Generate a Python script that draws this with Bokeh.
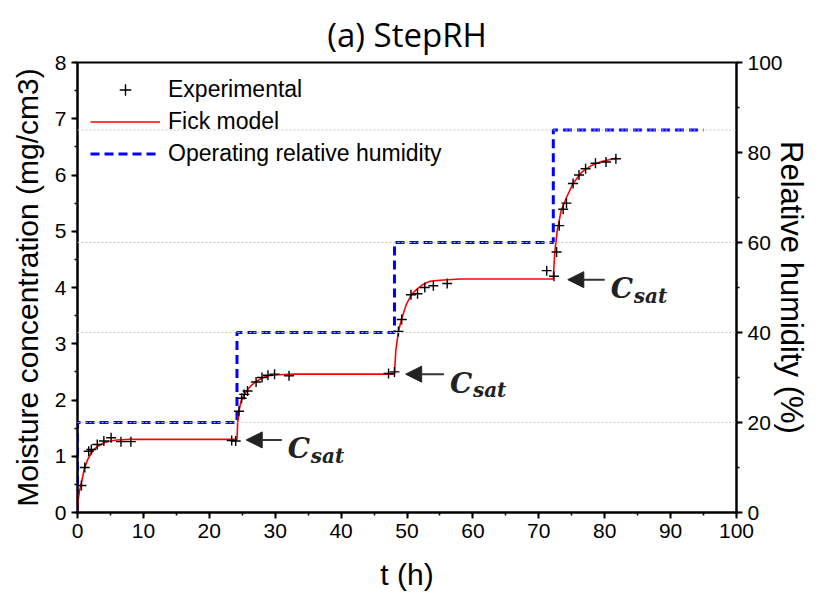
from bokeh.plotting import figure
from bokeh.models import (Range1d, LinearAxis, SingleIntervalTicker, Legend, LegendItem,
                          Span, Arrow, NormalHead, Label)
from bokeh.embed import file_html
from bokeh.resources import INLINE

# ---------------- data ----------------
# Experimental points
exp_t = [0.6, 1.1, 1.7, 2.1, 3.0, 4.0, 5.1, 6.6, 8.1, 23.4, 24.0,
         24.5, 24.9, 25.3, 25.8, 27.1, 28.0, 28.9, 29.9, 32.1, 47.2, 48.1,
         48.7, 49.2, 50.6, 51.6, 52.7, 54.0, 56.1, 71.2, 72.3,
         72.7, 73.1, 73.7, 74.2, 75.2, 76.1, 77.1, 78.6, 80.2, 81.7]
exp_c = [0.48, 0.80, 1.09, 1.12, 1.21, 1.27, 1.33, 1.26, 1.26, 1.28, 1.27,
         1.80, 2.03, 2.10, 2.16, 2.32, 2.40, 2.44, 2.46, 2.43, 2.47, 2.50,
         3.22, 3.43, 3.87, 3.89, 4.00, 4.03, 4.07, 4.30, 4.20,
         4.63, 5.10, 5.39, 5.50, 5.85, 6.00, 6.11, 6.21, 6.23, 6.29]

# Fick model curve
fick_t = [0, 0.1, 0.3, 0.6, 1.0, 1.5, 2.0, 2.5, 3.0, 4.0, 5.0, 6.0, 8.0, 12.0, 24.2,
          24.3, 24.5, 24.8, 25.2, 25.7, 26.3, 27.0, 28.0, 29.0, 30.5, 33.0, 40.0, 48.1,
          48.3, 48.7, 49.2, 49.9, 50.7, 51.5, 52.5, 53.5, 55.0, 58.0, 65.0, 72.2,
          72.4, 72.8, 73.4, 74.2, 75.2, 76.5, 78.0, 79.5, 80.7, 81.8]
fick_c = [0, 0.22, 0.38, 0.53, 0.76, 0.93, 1.04, 1.12, 1.17, 1.24, 1.27, 1.29, 1.30, 1.30, 1.30,
          1.58, 1.80, 1.97, 2.07, 2.17, 2.25, 2.32, 2.39, 2.43, 2.45, 2.46, 2.46, 2.46,
          2.88, 3.22, 3.45, 3.70, 3.88, 3.97, 4.06, 4.11, 4.13, 4.15, 4.15, 4.15,
          4.60, 5.01, 5.37, 5.60, 5.85, 6.05, 6.17, 6.24, 6.27, 6.30]

# Operating relative humidity steps
rh_step_t = [0, 24.2, 48.1, 72.2]
rh_levels = [20, 40, 60, 85]
rh_end_t = 95

# C_sat annotations (arrow tip / tail in t, level in concentration)
csat_tip_t = [25.6, 49.8, 74.4]
csat_tail_t = [31.0, 55.6, 80.0]
csat_c = [1.29, 2.46, 4.14]

# ---------------- figure ----------------
p = figure(width=835, height=595, x_range=Range1d(0, 100), y_range=Range1d(0, 8),
           output_backend="svg", toolbar_location=None,
           min_border_left=77, min_border_right=99, min_border_top=62, min_border_bottom=83)
p.extra_y_ranges = {"rh": Range1d(0, 100)}
p.xgrid.visible = False
p.ygrid.visible = False
p.outline_line_color = "black"
p.outline_line_width = 2
p.outline_line_alpha = 1
p.background_fill_color = "white"
p.border_fill_color = "white"

p.title.text = "(a) StepRH"
p.title.text_font = "Open Sans"
p.title.text_font_size = "33px"
p.title.text_font_style = "normal"
p.title.text_color = "black"
p.title.align = "center"
p.title.vertical_align = "top"
p.title.standoff = 8

right_axis = LinearAxis(y_range_name="rh", axis_label="Relative humidity (%)",
                        ticker=SingleIntervalTicker(interval=20, num_minor_ticks=2))
p.add_layout(right_axis, "right")

p.xaxis.ticker = SingleIntervalTicker(interval=10, num_minor_ticks=2)
p.yaxis[0].ticker = SingleIntervalTicker(interval=1, num_minor_ticks=2)
p.xaxis.axis_label = "t (h)"
p.yaxis[0].axis_label = "Moisture concentration (mg/cm3)"

for ax in [p.xaxis[0], p.yaxis[0], right_axis]:
    ax.axis_line_width = 2
    ax.axis_line_color = "black"
    ax.major_tick_line_width = 2
    ax.major_tick_line_color = "black"
    ax.minor_tick_line_width = 1.5
    ax.minor_tick_line_color = "black"
    ax.major_tick_in = 0
    ax.major_tick_out = 6
    ax.minor_tick_in = 0
    ax.minor_tick_out = 3
    ax.major_label_text_font = "Liberation Sans"
    ax.major_label_text_font_size = "21px"
    ax.major_label_text_color = "black"
    ax.major_label_standoff = 5
    ax.axis_label_text_font = "Liberation Sans"
    ax.axis_label_text_font_size = "30px"
    ax.axis_label_text_font_style = "normal"
    ax.axis_label_text_color = "black"
p.xaxis[0].axis_label_standoff = 17
p.yaxis[0].axis_label_standoff = 8
right_axis.axis_label_text_font_size = "31px"
right_axis.axis_label_standoff = -12

# reference lines at the operating humidity levels
for lv in rh_levels:
    p.add_layout(Span(location=lv, dimension="width", y_range_name="rh",
                      line_color="#c8c8c8", line_dash="2 2", line_width=1))

# RH step path
rh_x, rh_y = [], []
for i, (t0, lv) in enumerate(zip(rh_step_t, rh_levels)):
    prev = 0 if i == 0 else rh_levels[i - 1]
    rh_x += [t0, t0]
    rh_y += [prev, lv]
rh_x.append(rh_end_t)
rh_y.append(rh_levels[-1])

r_rh = p.line(rh_x, rh_y, y_range_name="rh", line_color="#0000ff", line_width=3,
              line_dash="9 5")
r_fick = p.line(fick_t, fick_c, line_color="#ff0000", line_width=1.6)
r_exp = p.scatter(exp_t, exp_c, marker="cross", size=10, line_color="black", line_width=1.4)

legend = Legend(items=[LegendItem(label="Experimental", renderers=[r_exp]),
                       LegendItem(label="Fick model", renderers=[r_fick]),
                       LegendItem(label="Operating relative humidity", renderers=[r_rh])],
                location="top_left", margin=5, padding=8, spacing=3,
                glyph_width=70, glyph_height=29, label_height=29, label_standoff=8,
                label_text_font="Liberation Sans", label_text_font_size="23px",
                label_text_color="black",
                border_line_alpha=0, background_fill_alpha=0)
p.add_layout(legend)

for tip, tail, c in zip(csat_tip_t, csat_tail_t, csat_c):
    p.add_layout(Arrow(end=NormalHead(size=16, fill_color="#222222", line_color="#222222"),
                       x_start=tail, y_start=c, x_end=tip, y_end=c,
                       line_color="#333333", line_width=2))
    p.add_layout(Label(x=tail, y=c, x_offset=6, y_offset=-9, text="C",
                       text_font="DejaVu Serif", text_font_style="bold italic",
                       text_font_size="28px", text_color="#222222",
                       text_baseline="alphabetic"))
    p.add_layout(Label(x=tail, y=c, x_offset=29, y_offset=-16, text="sat",
                       text_font="DejaVu Serif", text_font_style="bold italic",
                       text_font_size="20px", text_color="#222222",
                       text_baseline="alphabetic"))

open("out.html", "w").write(file_html(p, INLINE))
